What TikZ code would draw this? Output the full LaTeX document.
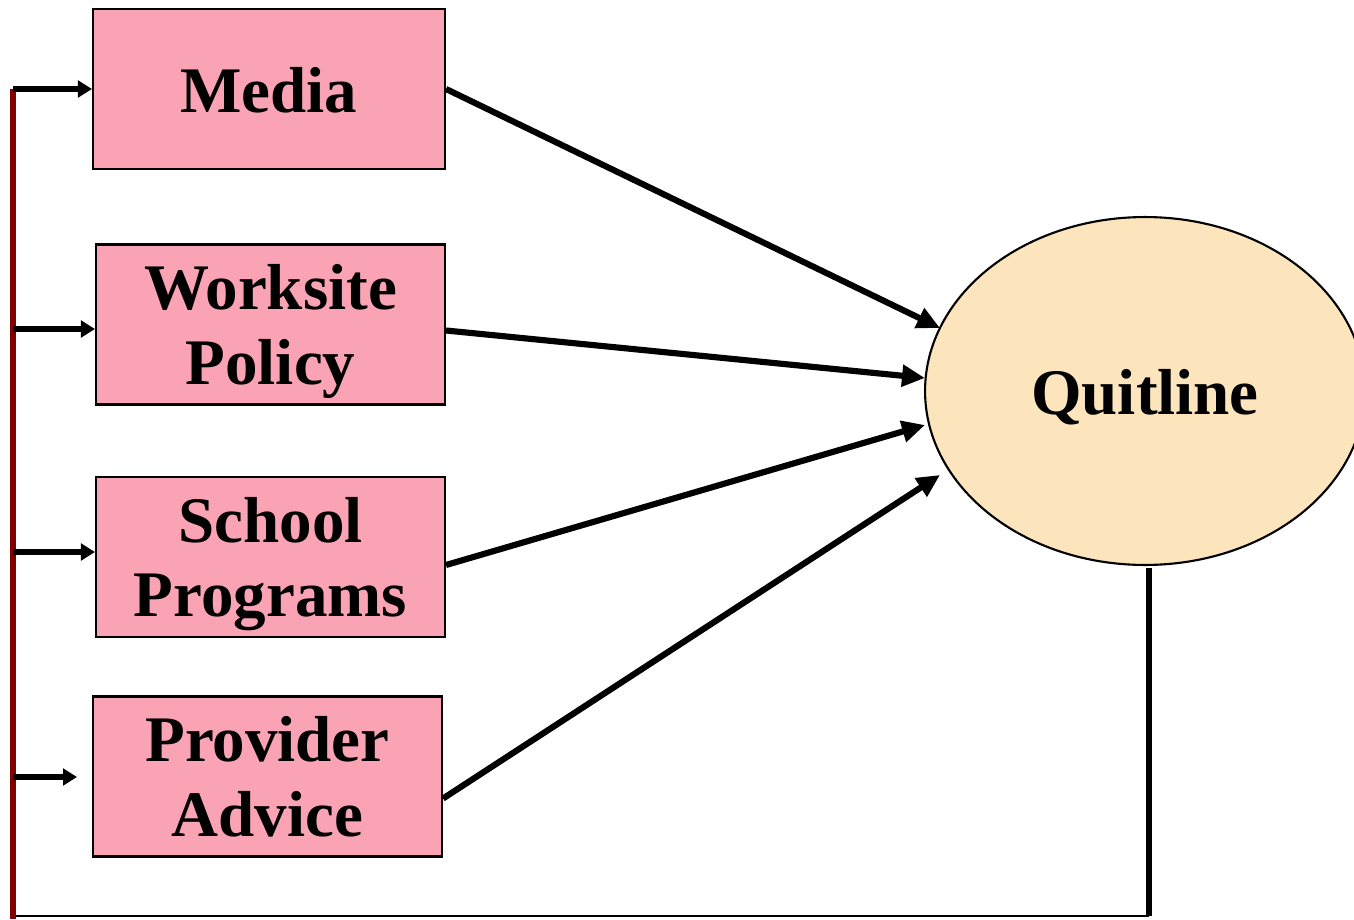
\documentclass[tikz,border=0pt]{standalone}
\usepackage{fontspec}
\setmainfont{Liberation Serif}
\usepackage{tikz}
\usetikzlibrary{arrows.meta,calc,positioning,shapes.geometric}
\usepackage{xcolor}
\definecolor{BoxPink}{RGB}{250,163,180}
\definecolor{QuitTan}{RGB}{252,228,188}
\definecolor{LoopRed}{RGB}{128,0,0}
\newcommand{\bigbf}{\fontsize{37}{42.5}\selectfont\bfseries}
\newcommand{\oneline}[1]{\raisebox{-13.4pt}[0pt][0pt]{#1}}
\newcommand{\twoline}[2]{\raisebox{-10.6pt}[0pt][0pt]{\begin{tabular}{@{}c@{}}#1\\#2\end{tabular}}}

\begin{document}
\begin{tikzpicture}[x=0.02cm,y=-0.02cm]
\useasboundingbox (0,0) rectangle (1354,919);
\tikzset{
  prog/.style={draw, line width=1.2pt, fill=BoxPink, minimum width=6.98cm, minimum height=3.2cm, align=center, font=\bigbf, inner sep=0pt},
  feed/.style={-{Triangle[length=4.6mm,width=4.2mm]}, line width=3.5pt},
  entry/.style={-{Triangle[length=2.8mm,width=3.3mm]}, line width=2.9pt}
}
\node[prog, minimum width=7.04cm] (media) at (269,89) {\oneline{Media}};
\node[prog] (work) at (270.5,324.5) {\twoline{Worksite}{Policy}};
\node[prog] (school) at (270.5,557) {\twoline{School}{Programs}};
\node[prog] (prov) at (267.5,776.5) {\twoline{Provider}{Advice}};
\node[draw, line width=1.2pt, ellipse, fill=QuitTan, minimum width=8.8cm, minimum height=6.96cm, font=\bigbf] (quit) at (1145,391) {\oneline{Quitline}};

\draw[feed] (media.east) -- (940,328);
\draw[feed] (work.east) ++(0,6) -- (925,378);
\draw[feed] (school.east) ++(0,8) -- (925,425);
\draw[feed] (prov.east) ++(0,22) -- (940,475);

% loop back to the programs
\coordinate (fbtop) at (1149,568);
\coordinate (fbbot) at (1149,916);
\coordinate (fbleft) at (13,916);
\draw[line width=3.3pt] (fbtop) -- (fbbot);
\draw[line width=1pt] (fbbot) -- (fbleft);
\draw[LoopRed, line width=3.4pt] (13,919) -- (13,89);
\draw[entry] (13,89) -- (media.west);
\draw[entry] (13,329) -- (13,329 -| work.west);
\draw[entry] (13,552) -- (13,552 -| school.west);
\draw[entry] (13,777) -- (77,777);
\end{tikzpicture}
\end{document}
